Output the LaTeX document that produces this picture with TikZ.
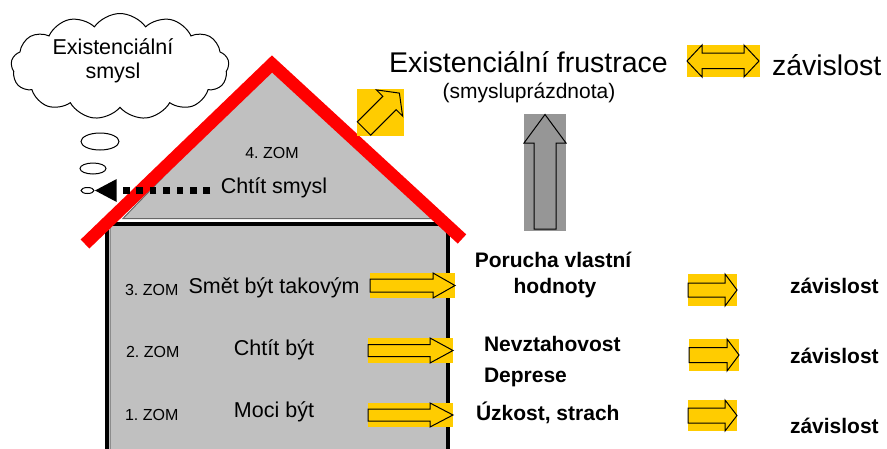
\documentclass[tikz,border=0pt]{standalone}
\usepackage{fontspec}
\setmainfont{Liberation Sans}
\usetikzlibrary{shapes.geometric,shapes.symbols,arrows.meta}
\definecolor{roofgray}{HTML}{C0C0C0}
\definecolor{ygold}{HTML}{FFCC00}
\definecolor{darrow}{HTML}{969696}
\definecolor{roofred}{HTML}{FF0000}
\frenchspacing
\tikzset{
  outl/.style={draw=black, line width=1pt, line join=miter},
  txt/.style={inner sep=0pt, outer sep=0pt},
  tA/.style={txt, font=\fontsize{28.5}{32}\selectfont},
  tB/.style={txt, font=\fontsize{21.5}{25}\selectfont},
  tBb/.style={txt, font=\fontsize{21}{25}\selectfont\bfseries},
  tC/.style={txt, font=\fontsize{16}{19}\selectfont},
  tD/.style={txt, font=\fontsize{21}{24}\selectfont},
  bubble/.style={ellipse, draw=black, line width=1pt, fill=white, inner sep=0pt},
  dotsarrow/.style={line width=6.6pt, dash pattern=on 6.7pt off 6.7pt,
    -{Triangle[length=22pt,width=21pt]}},
}
\newcommand\myRarrow[6]{% left x, head x, tip x, y top, y bottom, shaft half
  \pgfmathsetmacro\myyc{(#4+#5)/2}
  \fill[ygold] (#1,#4) rectangle (#3,#5);
  \draw[outl] (#1,\myyc-#6) -- (#2,\myyc-#6) -- (#2,#4) -- (#3,\myyc)
     -- (#2,#5) -- (#2,\myyc+#6) -- (#1,\myyc+#6) -- cycle;
}
\begin{document}
\begin{tikzpicture}[x=1pt,y=-1pt]
\useasboundingbox (0,0) rectangle (887,448);
\fill[white] (0,0) rectangle (887,448);

% house body
\fill[roofgray] (107,224) rectangle (448,452);
\draw[black!45, line width=1pt] (110.5,226) -- (110.5,452);
\draw[line width=4pt, line join=miter] (107,452) -- (107,224) -- (448,224) -- (448,452);

% roof triangle
\draw[fill=roofgray, draw=black!60, line width=1pt] (123,218.5) -- (272,64) -- (432,218.5) -- cycle;

% red roof
\draw[roofred, line width=12.5pt, line join=miter] (85,244) -- (272,64) -- (462,239);

% cloud and bubbles
\node[cloud, cloud puffs=13, cloud puff arc=110, aspect=2.1, draw=black, line width=1pt,
      fill=white, minimum width=218pt, minimum height=106pt, inner sep=0pt] (cloud) at (120,66.5) {};
\node[tB, anchor=base] (cloudtxt1) at (113,54) {Existenciální};
\node[tB, anchor=base] (cloudtxt2) at (113,78) {smysl};
\node[bubble, minimum width=38pt, minimum height=17pt] (b1) at (100,141.5) {};
\node[bubble, minimum width=26pt, minimum height=11pt] (b2) at (93,168.5) {};
\node[bubble, minimum width=13pt, minimum height=6pt] (b3) at (87.5,190.5) {};

% roof texts
\node[tC, anchor=base] (zom4) at (272,158) {4. ZOM};
\node[tB, anchor=base] (chtitsmysl) at (274,193) {Chtít smysl};
\coordinate (dstart) at (210,190.5);
\draw[dotsarrow] (dstart) -- (b3.east);

% tilted yellow arrow
\fill[ygold] (357,89) rectangle (404,136);
\draw[outl] (357.3,121.8) -- (370.7,135.2) -- (396.2,109.7) -- (402.6,116.1)
  -- (399.4,93.1) -- (376.4,89.9) -- (382.8,96.3) -- cycle;

% title
\node[tA, anchor=base] (title) at (528.5,72) {Existenciální frustrace};
\node[tD, anchor=base] (subtitle) at (529,98) {(smysluprázdnota)};

% double arrow
\fill[ygold] (687,45) rectangle (760,77);
\draw[outl] (687,61) -- (702,45) -- (702,53) -- (744,53) -- (744,45) -- (759,61)
  -- (744,77) -- (744,68.5) -- (702,68.5) -- (702,77) -- cycle;
\node[tA, anchor=base west] (zav0) at (772,75) {závislost};

% gray up arrow
\fill[darrow] (524,114) rectangle (566,231);
\draw[outl] (545,114.5) -- (566,143) -- (556,143) -- (556,229) -- (534,229)
  -- (534,143) -- (524,143) -- cycle;

% house labels
\node[tC, anchor=base west] (zom3) at (125,295) {3. ZOM};
\node[tC, anchor=base west] (zom2) at (126,357) {2. ZOM};
\node[tC, anchor=base west] (zom1) at (125,420) {1. ZOM};
\node[tB, anchor=base] (smet) at (274,293) {Smět být takovým};
\node[tB, anchor=base] (chtit) at (274,355) {Chtít být};
\node[tB, anchor=base] (moci) at (274,417) {Moci být};

% house arrows
\myRarrow{370}{433}{455}{273}{298}{6.5}
\myRarrow{368}{430}{453}{338}{363}{6}
\myRarrow{368}{430}{453}{403}{427}{6}

% right texts
\node[tBb, anchor=base] (porucha) at (553,267) {Porucha vlastní};
\node[tBb, anchor=base] (hodnoty) at (555,293) {hodnoty};
\node[tBb, anchor=base west] (nevz) at (484,351) {Nevztahovost};
\node[tBb, anchor=base west] (depr) at (484,382) {Deprese};
\node[tBb, anchor=base west] (uzk) at (476,420) {Úzkost, strach};

% right arrows
\myRarrow{688}{725}{737}{274}{306}{7}
\myRarrow{689}{727}{739}{339}{371}{7.5}
\myRarrow{688}{725}{737}{400}{431}{7.5}

\node[tBb, anchor=base west] (zav3) at (790,293) {závislost};
\node[tBb, anchor=base west] (zav2) at (790,363) {závislost};
\node[tBb, anchor=base west] (zav1) at (790,433) {závislost};
\end{tikzpicture}
\end{document}
